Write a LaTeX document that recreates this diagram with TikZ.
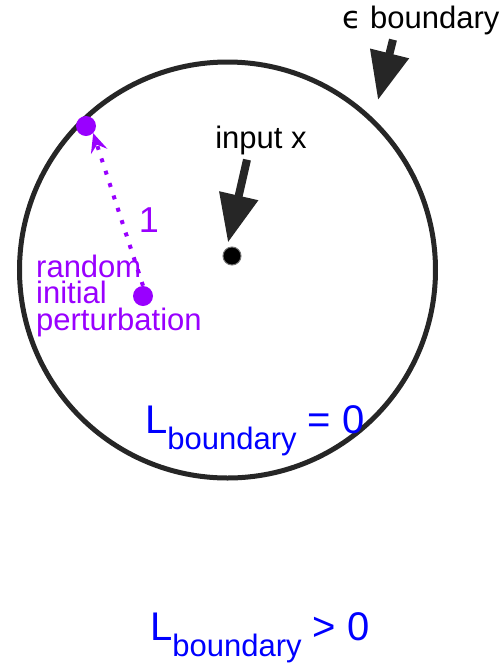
\documentclass[tikz,border=0pt]{standalone}
\usepackage{fontspec}
\setmainfont{Liberation Sans}
\newfontfamily\epsfont{DejaVu Sans}
\usetikzlibrary{arrows.meta,positioning}
\definecolor{ballGray}{HTML}{262626}
\definecolor{pertPurple}{HTML}{9900FF}
\definecolor{lossBlue}{HTML}{0000FF}
\newcommand{\lossLabel}[1]{L\raisebox{-16pt}{\fontsize{31}{31}\selectfont boundary} #1}

\begin{document}
\begin{tikzpicture}[x=1pt,y=-1pt,
  bigarrow/.style={ballGray,line width=8pt,-{Triangle[width=38pt,length=48pt]}},
  pertarrow/.style={pertPurple,line width=4pt,dash pattern=on 4pt off 9pt,
    -{Stealth[width=17pt,length=19pt,inset=7pt]}},
  dot/.style={circle,inner sep=0pt,minimum size=#1},
  lab/.style={font=\fontsize{31}{31}\selectfont,inner sep=0pt},
  pertline/.style={pertPurple,font=\fontsize{31}{31}\selectfont,inner sep=0pt,anchor=base west},
  losslab/.style={lossBlue,font=\fontsize{40}{40}\selectfont,inner sep=0pt,anchor=base west}]
\useasboundingbox (0,0) rectangle (503,665);
% the epsilon ball
\draw[ballGray,line width=5pt] (227.5,270) circle (208);
\node[dot=18pt,fill=black,draw=black!55,line width=1pt] (x0) at (232,256) {};
\node[lab] (xlab) at (261,140) {input x};
\draw[bigarrow] ([xshift=-14pt,yshift=-5pt]xlab.south) -- ([xshift=-4pt,yshift=4pt]x0.north);
\node[lab] (epslab) at (421,20) {{\epsfont ϵ} boundary};
\coordinate (epsTip) at (378,100);
\draw[bigarrow] ([xshift=-28pt,yshift=-5pt]epslab.south) -- (epsTip);
% perturbation
\node[dot=20pt,fill=pertPurple] (pOut) at (86,126) {};
\node[dot=20pt,fill=pertPurple] (pIn) at (143,296) {};
\draw[pertarrow] (pIn.north) -- (pOut.south east);
\node[lab,pertPurple,font=\fontsize{36}{36}\selectfont] (one) at (149,220) {1};
\node[pertline] (pert1) at (36,277) {random};
\node[pertline] (pert2) at (36,303.5) {initial};
\node[pertline] (pert3) at (36,330) {perturbation};
% losses
\node[losslab] (lossIn) at (145,433) {\lossLabel{= 0}};
\node[losslab] (lossOut) at (150,640) {\lossLabel{> 0}};
\end{tikzpicture}
\end{document}
